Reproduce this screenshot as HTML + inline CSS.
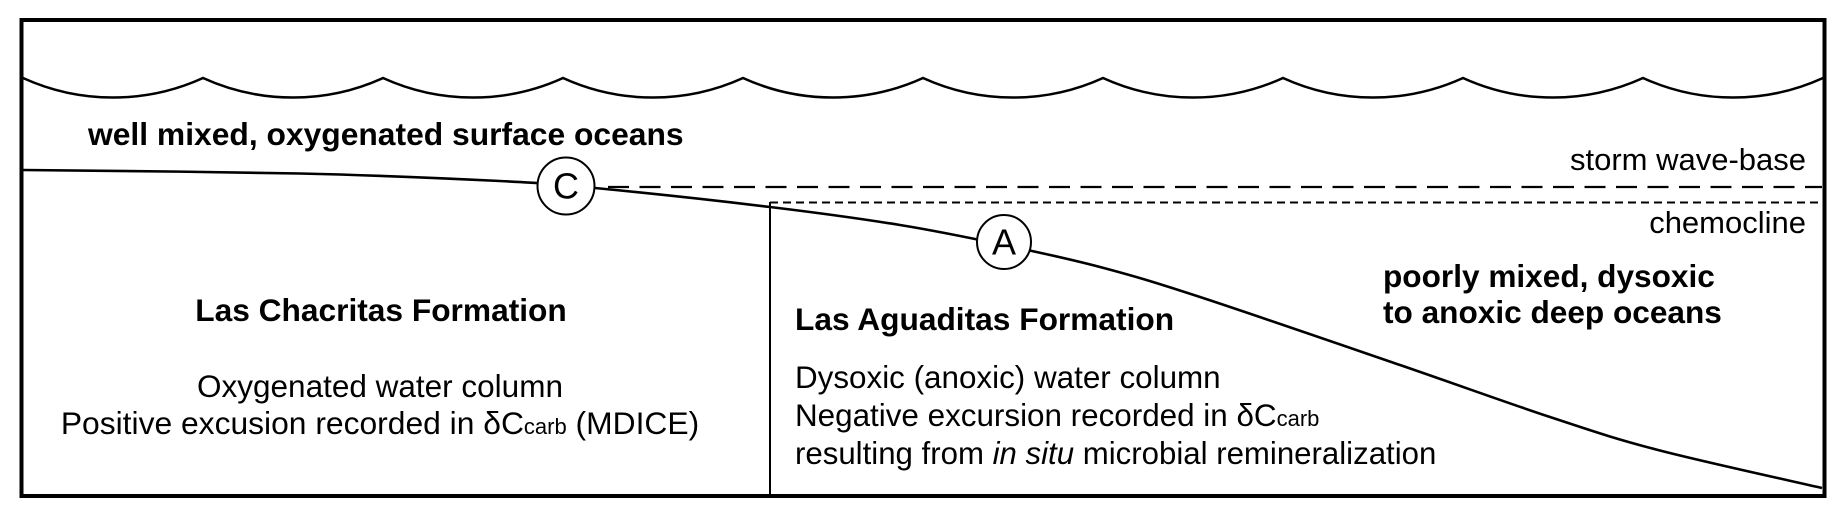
<!DOCTYPE html>
<html>
<head>
<meta charset="utf-8">
<style>
  html, body { margin: 0; padding: 0; background: #ffffff; }
  svg { display: block; }
  text { font-family: "Liberation Sans", Arial, sans-serif; fill: #000; }
  .b { font-weight: bold; }
</style>
</head>
<body>
<svg width="1848" height="520" viewBox="0 0 1848 520" xmlns="http://www.w3.org/2000/svg">
  <rect x="0" y="0" width="1848" height="520" fill="#ffffff"/>

  <!-- waves -->
  <path d="M23,78 A217,217 0 0 0 203,78 A217,217 0 0 0 383,78 A217,217 0 0 0 563,78 A217,217 0 0 0 743,78 A217,217 0 0 0 923,78 A217,217 0 0 0 1103,78 A217,217 0 0 0 1283,78 A217,217 0 0 0 1463,78 A217,217 0 0 0 1643,78 A217,217 0 0 0 1823,78" fill="none" stroke="#000" stroke-width="2.5"/>

  <!-- storm wave-base dashed -->
  <line x1="608" y1="187" x2="1822" y2="187" stroke="#000" stroke-width="2.2" stroke-dasharray="21,10.5"/>
  <!-- chemocline dotted -->
  <line x1="770" y1="202.5" x2="1822" y2="202.5" stroke="#000" stroke-width="2" stroke-dasharray="8,5"/>

  <!-- vertical divider -->
  <line x1="770" y1="202" x2="770" y2="496" stroke="#000" stroke-width="2"/>

  <!-- seafloor curve -->
  <path d="M23,170 C69.2,170.6 220.5,171.67 300,173.5 C379.5,175.33 450.83,178.58 500,181 C549.17,183.42 550,183.67 595,188 C640,192.33 719.17,200.83 770,207 C820.83,213.17 861,218.67 900,225 C939,231.33 970.67,238 1004,245 C1037.33,252 1067.33,258.33 1100,267 C1132.67,275.67 1150,280.67 1200,297 C1250,313.33 1341.67,345 1400,365 C1458.33,385 1507,402.83 1550,417 C1593,431.17 1612.67,438.17 1658,450 C1703.33,461.83 1794.67,481.67 1822,488" fill="none" stroke="#000" stroke-width="2.6"/>

  <!-- circles -->
  <circle cx="566" cy="186" r="28.5" fill="#fff" stroke="#000" stroke-width="2"/>
  <text x="566" y="198.5" font-size="36" text-anchor="middle">C</text>
  <circle cx="1004" cy="242" r="27" fill="#fff" stroke="#000" stroke-width="2"/>
  <text x="1004" y="254.5" font-size="36" text-anchor="middle">A</text>

  <!-- frame -->
  <rect x="21.5" y="20" width="1803" height="476" fill="none" stroke="#000" stroke-width="4"/>

  <!-- labels -->
  <text class="b" x="88" y="145" font-size="31.8">well mixed, oxygenated surface oceans</text>
  <text x="1806" y="170" font-size="31" text-anchor="end">storm wave-base</text>
  <text x="1806" y="233" font-size="31" text-anchor="end">chemocline</text>

  <text class="b" x="381" y="321" font-size="31.7" text-anchor="middle">Las Chacritas Formation</text>
  <text x="380" y="397" font-size="31.5" text-anchor="middle">Oxygenated water column</text>
  <text x="380" y="434" font-size="31.8" text-anchor="middle">Positive excusion recorded in δC<tspan font-size="22">carb</tspan> (MDICE)</text>

  <text class="b" x="795" y="330" font-size="31.7">Las Aguaditas Formation</text>
  <text x="795" y="388" font-size="31.4">Dysoxic (anoxic) water column</text>
  <text x="795" y="426" font-size="31.4">Negative excursion recorded in δC<tspan font-size="22">carb</tspan></text>
  <text x="795" y="464" font-size="31.2">resulting from <tspan font-style="italic">in situ</tspan> microbial remineralization</text>

  <text class="b" x="1383" y="287" font-size="31.6">poorly mixed, dysoxic</text>
  <text class="b" x="1383" y="323" font-size="31.6">to anoxic deep oceans</text>
</svg>
</body>
</html>
